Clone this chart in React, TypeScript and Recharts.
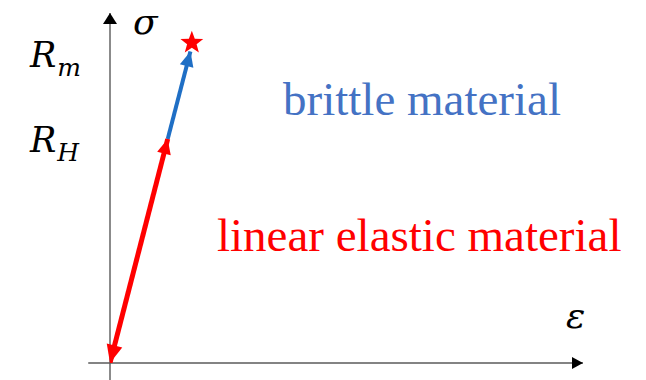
import React from "react";
import {
  ComposedChart, Customized, Line, ReferenceLine, Scatter, XAxis, YAxis,
} from "recharts";

// strain ε / stress σ in arbitrary units (0..100 on both axes)
const elasticPath = [{ e: 0, s: 0 }, { e: 12.2, s: 64 }];
const brittlePath = [{ e: 12.2, s: 64 }, { e: 17, s: 89 }];
const hookeLine = [{ e: 0, s: 0 }, { e: 17, s: 89 }];
const fracture = [{ e: 17.3, s: 91.5 }];
const stressTicks = [64, 91.5];
const stressTickSubs = ["H", "m"];

const W = 646;
const H = 380;
const SERIF = "Liberation Serif, Tinos, Times New Roman, DejaVu Serif";
const MATH = "DejaVu Serif";
const RED = "#ff0000";
const BLUE = "#1f6fc5";
const TEXT_BLUE = "#4472c4";
const AXIS_GREY = "#5a5a5a";

// filled triangle with its tip at (x2, y2), pointing away from (x1, y1)
const head = (x1: number, y1: number, x2: number, y2: number, len: number, half: number, fill: string) => {
  const dx = x2 - x1;
  const dy = y2 - y1;
  const d = Math.hypot(dx, dy) || 1;
  const ux = dx / d;
  const uy = dy / d;
  const bx = x2 - ux * len;
  const by = y2 - uy * len;
  const pts = [
    [x2, y2],
    [bx - uy * half, by + ux * half],
    [bx + uy * half, by - ux * half],
  ].map((p) => p.join(",")).join(" ");
  return <polygon points={pts} fill={fill} />;
};

const arrowTip = (fill: string, len: number, half: number) => (p: any) =>
  head(p.x1, p.y1, p.x2, p.y2, len, half, fill);

const axisArrow = (len: number, half: number) => (p: any) => (
  <g>
    <line x1={p.x1} y1={p.y1} x2={p.x2} y2={p.y2} stroke={AXIS_GREY} strokeWidth={1.4} />
    {head(p.x1, p.y1, p.x2, p.y2, len, half, "#000")}
  </g>
);

const Star = (p: any) => {
  const { cx, cy } = p;
  const pts: string[] = [];
  for (let i = 0; i < 10; i++) {
    const r = i % 2 === 0 ? 12 : 5;
    const a = -Math.PI / 2 + (i * Math.PI) / 5;
    pts.push(`${cx + r * Math.cos(a)},${cy + r * Math.sin(a)}`);
  }
  return <polygon points={pts.join(" ")} fill={RED} />;
};

const font = (family: string, size: number, italic = false) => ({
  fontFamily: family,
  fontSize: size,
  fontStyle: italic ? "italic" : "normal",
});

// R with a subscript, shifted so it sits beside the level it names
const tickShift: Record<string, number> = { H: 13, m: 24 };
const StressTick = (p: any) => {
  const i = stressTicks.indexOf(p.payload.value);
  const sub = stressTickSubs[i];
  return (
    <text x={30} y={p.y + tickShift[sub]} style={font(MATH, 35, true)} fill="#000" textAnchor="start">
      <tspan>R</tspan>
      <tspan style={{ fontSize: 25 }} dy={9} dx={1}>{sub}</tspan>
    </text>
  );
};

const Annotations = () => (
  <g>
    <text x={133} y={34} style={font(MATH, 36, true)} fill="#000">σ</text>
    <text x={566} y={328} style={font(MATH, 36, true)} fill="#000">ε</text>
    <text x={283} y={115} style={font(SERIF, 47)} fill={TEXT_BLUE}>brittle material</text>
    <text x={217} y={251} style={font(SERIF, 47)} fill={RED}>linear elastic material</text>
  </g>
);

export default function App() {
  return (
    <div style={{ position: "absolute", left: 0, top: 0, width: W, height: H, background: "#fff" }}>
      <ComposedChart width={W} height={H} margin={{ top: 13, right: 63, bottom: 17, left: 109 }}>
        <XAxis type="number" dataKey="e" domain={[0, 100]} allowDataOverflow hide />
        <YAxis
          type="number"
          dataKey="s"
          domain={[0, 100]}
          allowDataOverflow
          width={1}
          ticks={stressTicks}
          interval={0}
          axisLine={false}
          tickLine={false}
          tick={(p: any) => <StressTick {...p} />}
        />
        <ReferenceLine
          segment={[{ x: -4.6, y: 0 }, { x: 100, y: 0 }]}
          ifOverflow="visible"
          shape={axisArrow(11, 6)}
        />
        <ReferenceLine
          segment={[{ x: 0, y: -4.9 }, { x: 0, y: 100 }]}
          ifOverflow="visible"
          shape={axisArrow(11, 7)}
        />
        <Line
          data={hookeLine}
          dataKey="s"
          stroke="#1a1a1a"
          strokeWidth={2}
          strokeDasharray="6 3"
          dot={false}
          isAnimationActive={false}
        />
        <Line data={brittlePath} dataKey="s" stroke={BLUE} strokeWidth={4} dot={false} isAnimationActive={false} />
        <Line data={elasticPath} dataKey="s" stroke={RED} strokeWidth={5} dot={false} isAnimationActive={false} />
        <ReferenceLine
          segment={[brittlePath[0], brittlePath[1]].map((d) => ({ x: d.e, y: d.s }))}
          ifOverflow="visible"
          shape={arrowTip(BLUE, 15, 7)}
        />
        <ReferenceLine
          segment={[elasticPath[1], elasticPath[0]].map((d) => ({ x: d.e, y: d.s }))}
          ifOverflow="visible"
          shape={arrowTip(RED, 18, 8)}
        />
        <ReferenceLine
          segment={[elasticPath[0], elasticPath[1]].map((d) => ({ x: d.e, y: d.s }))}
          ifOverflow="visible"
          shape={arrowTip(RED, 15, 7)}
        />
        <Scatter data={fracture} dataKey="s" shape={<Star />} isAnimationActive={false} />
        <Customized component={<Annotations />} />
      </ComposedChart>
    </div>
  );
}
